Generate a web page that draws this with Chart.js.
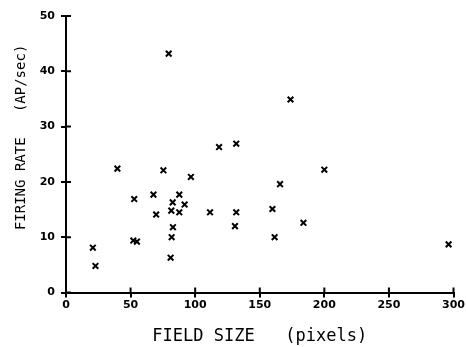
<!DOCTYPE html>
<html>
<head>
<meta charset="utf-8">
<script src="https://cdn.jsdelivr.net/npm/chart.js@4/dist/chart.umd.min.js"></script>
<style>
  html, body { margin: 0; padding: 0; background: #fff; }
  #wrap { width: 466px; height: 347px; }
</style>
</head>
<body>
<div id="wrap"><canvas id="scatter" width="466" height="347"></canvas></div>
<script>
// field size (pixels) and firing rate (AP/sec)
const fieldSize = [20.8, 22.8, 39.8, 52.8, 52.1, 54.9, 67.7, 69.8, 75.4, 79.5,
                   82.6, 81.5, 87.7, 87.7, 91.8, 82.8, 81.8, 81.0, 96.7, 111.5,
                   118.5, 131.8, 131.8, 130.8, 159.8, 161.5, 165.7, 173.8, 183.8,
                   200.0, 296.2];
const firingRate = [8.1, 4.8, 22.4, 16.9, 9.4, 9.2, 17.7, 14.1, 22.1, 43.2,
                    16.3, 14.8, 17.7, 14.5, 15.9, 11.8, 10.0, 6.3, 20.9, 14.5,
                    26.3, 26.9, 14.5, 12.0, 15.1, 10.0, 19.6, 34.9, 12.6,
                    22.2, 8.7];
const xTicks = [0, 50, 100, 150, 200, 250, 300];
const yTicks = [0, 10, 20, 30, 40, 50];

const points = fieldSize.map((x, i) => ({ x: x, y: firingRate[i] }));

// tick marks also poke into the plot area
const innerTicks = {
    id: 'innerTicks',
    afterDraw(chart) {
        const c = chart.ctx;
        const xs = chart.scales.x, ys = chart.scales.y;
        c.save();
        c.strokeStyle = '#000';
        c.lineWidth = 2;
        c.beginPath();
        xTicks.forEach(v => {
            const px = xs.getPixelForValue(v);
            c.moveTo(px, ys.bottom);
            c.lineTo(px, ys.bottom - 5);
        });
        yTicks.forEach(v => {
            const py = ys.getPixelForValue(v);
            c.moveTo(xs.left, py);
            c.lineTo(xs.left + 5, py);
        });
        c.stroke();
        c.restore();
    }
};

const tickFont = { family: 'DejaVu Sans', size: 11, weight: 'bold' };

new Chart(document.getElementById('scatter').getContext('2d'), {
    type: 'scatter',
    data: {
        datasets: [{
            data: points,
            pointStyle: 'crossRot',
            pointRadius: 4,
            pointBorderWidth: 2,
            borderColor: '#000',
            backgroundColor: '#000'
        }]
    },
    options: {
        responsive: false,
        animation: false,
        layout: { padding: { top: 16, right: 10, left: 0, bottom: 0 } },
        plugins: { legend: { display: false }, tooltip: { enabled: false } },
        scales: {
            x: {
                type: 'linear', min: 0, max: 300,
                afterFit(s) { s.height = 54.5; },
                afterBuildTicks(s) { s.ticks = xTicks.map(v => ({ value: v })); },
                border: { color: '#000', width: 2 },
                grid: { drawOnChartArea: false, color: '#000', lineWidth: 2, tickLength: 5 },
                ticks: { color: '#000', font: tickFont, padding: 1, maxRotation: 0 },
                title: {
                    display: true, text: 'FIELD SIZE   (pixels)', color: '#000',
                    font: { family: 'DejaVu Sans Mono', size: 17 },
                    padding: { top: 2, bottom: 0 }
                }
            },
            y: {
                type: 'linear', min: 0, max: 50,
                afterFit(s) { s.width = 66; },
                afterBuildTicks(s) { s.ticks = yTicks.map(v => ({ value: v })); },
                border: { color: '#000', width: 2 },
                grid: { drawOnChartArea: false, color: '#000', lineWidth: 2, tickLength: 5 },
                ticks: { color: '#000', font: tickFont, padding: 6 },
                title: {
                    display: true, text: '    FIRING RATE   (AP/sec)', color: '#000',
                    font: { family: 'DejaVu Sans Mono', size: 14 },
                    padding: { top: 13, bottom: 0 }
                }
            }
        }
    },
    plugins: [innerTicks]
});
</script>
</body>
</html>
